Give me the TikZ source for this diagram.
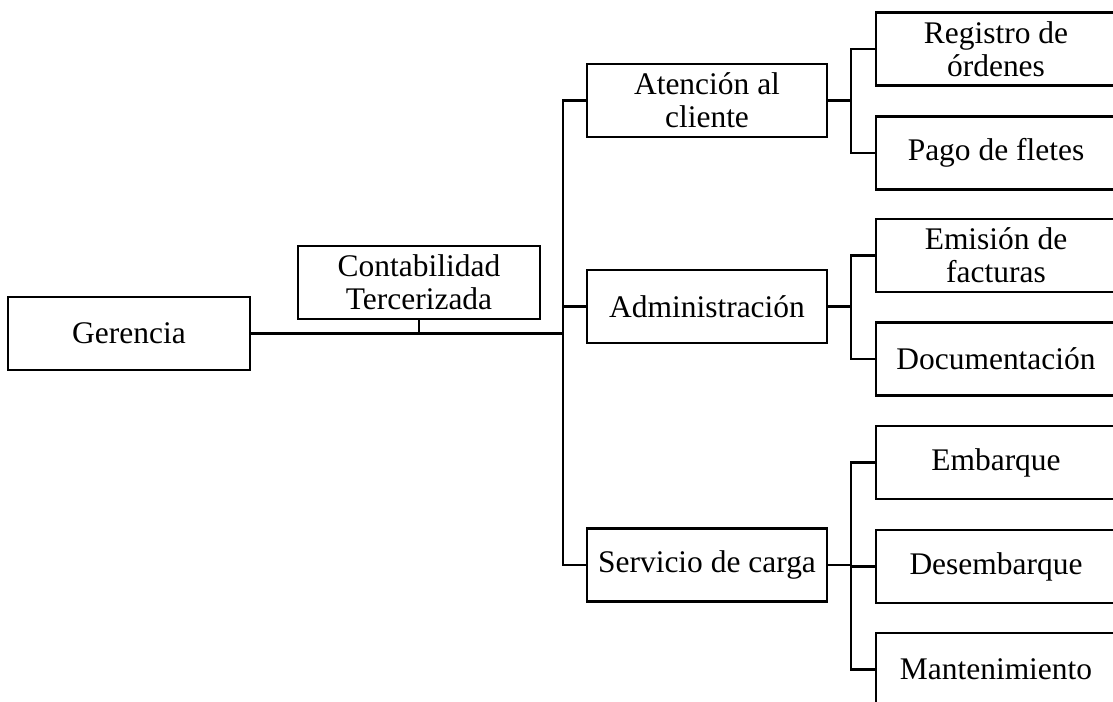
\documentclass[tikz,border=0pt]{standalone}
\usepackage{fontspec}
\setmainfont{Liberation Serif}
\begin{document}
\begin{tikzpicture}[x=0.75pt,y=-0.75pt,
  box/.style={draw, line width=2.2pt, inner sep=0pt, align=center,
    minimum width=180pt, minimum height=54.75pt,
    font=\fontsize{23.6}{25}\selectfont},
  wide/.style={minimum width=181.5pt},
  conn/.style={line width=2.2pt}]
\clip (0,0) rectangle (1113,702);
% left
\node[box,wide] (ger) at (129,333.5) {Gerencia};
\node[box,wide] (cont) at (419,282.5) {Contabilidad\\Tercerizada};
% middle column
\node[box] (aten) at (707,100.5) {Atención al\\cliente};
\node[box] (adm) at (707,306.5) {Administración};
\node[box] (serv) at (707,565) {Servicio de carga};
% right column
\node[box] (reg) at (996,49) {Registro de\\órdenes};
\node[box] (pago) at (996,153) {Pago de fletes};
\node[box] (emi) at (996,255.5) {Emisión de\\facturas};
\node[box] (doc) at (996,359) {Documentación};
\node[box] (emb) at (996,462.5) {Embarque};
\node[box] (des) at (996,566.5) {Desembarque};
\node[box] (man) at (996,669.5) {Mantenimiento};
% connectors
\coordinate (t) at (563,0);
\coordinate (r) at (851,0);
\draw[conn] (ger.east) -- (ger.east -| t);
\draw[conn] (cont.south) -- (cont.south |- ger.east);
\draw[conn] (aten.west) -- (aten.west -| t) -- (serv.west -| t) -- (serv.west);
\draw[conn] (adm.west) -- (adm.west -| t);
\draw[conn] (aten.east) -- (aten.east -| r);
\draw[conn] (reg.west) -- (reg.west -| r) -- (pago.west -| r) -- (pago.west);
\draw[conn] (adm.east) -- (adm.east -| r);
\draw[conn] (emi.west) -- (emi.west -| r) -- (doc.west -| r) -- (doc.west);
\draw[conn] (serv.east) -- (serv.east -| r);
\draw[conn] (emb.west) -- (emb.west -| r) -- (man.west -| r) -- (man.west);
\draw[conn] (des.west) -- (des.west -| r);
\end{tikzpicture}
\end{document}
